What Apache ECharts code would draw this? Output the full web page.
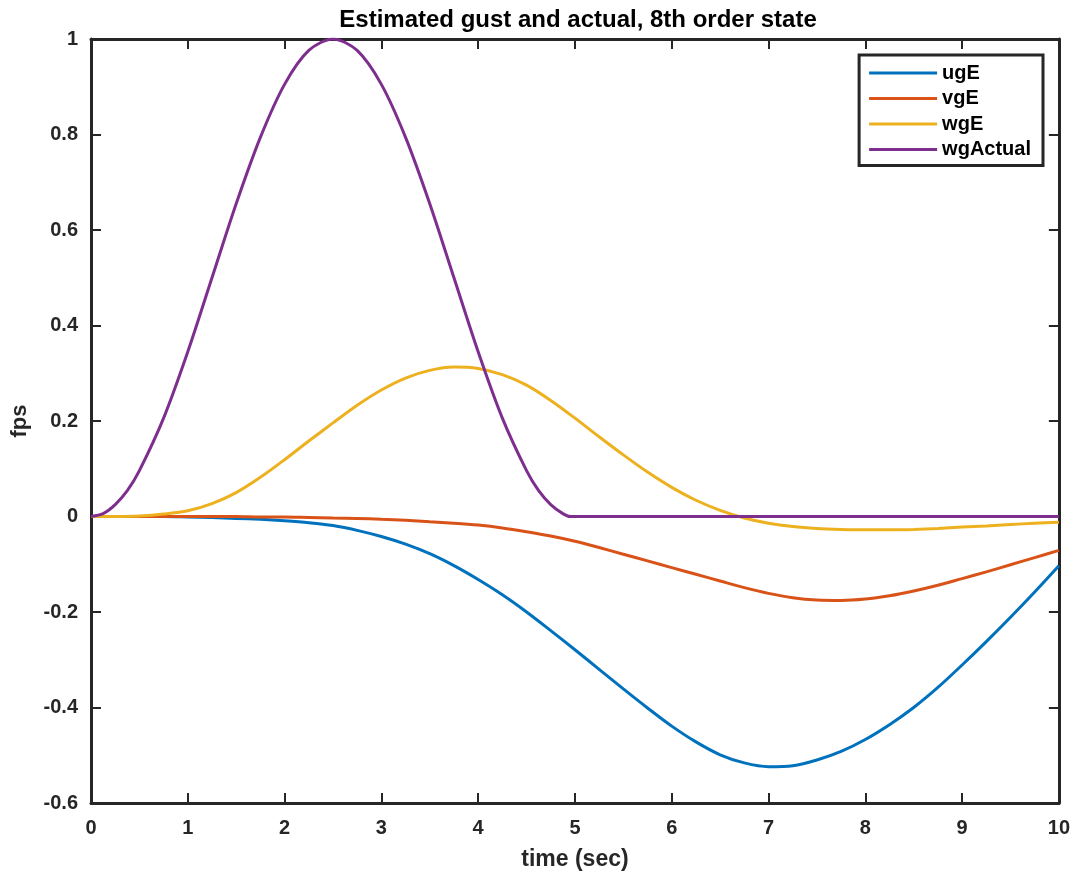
<!DOCTYPE html>
<html>
<head>
<meta charset="utf-8">
<script src="https://cdn.jsdelivr.net/npm/echarts@6/dist/echarts.min.js"></script>
<style>
  html, body { margin: 0; padding: 0; background: #fff; }
  #chart { width: 1073px; height: 876px; }
</style>
</head>
<body>
<div id="chart"></div>
<script>
// time samples (sec), quarter-second spacing
const time = [0, 0.25, 0.5, 0.75, 1, 1.25, 1.5, 1.75, 2, 2.25, 2.5, 2.75, 3, 3.25, 3.5, 3.75, 4, 4.25, 4.5, 4.75,
              5, 5.25, 5.5, 5.75, 6, 6.25, 6.5, 6.75, 7, 7.25, 7.5, 7.75, 8, 8.25, 8.5, 8.75, 9, 9.25, 9.5, 9.75, 10];

// estimated gust components (fps)
const ugE = [0, 0, 0, 0, -0.001, -0.002, -0.004, -0.006, -0.009, -0.013, -0.019, -0.029, -0.042, -0.058, -0.078, -0.103, -0.132, -0.164, -0.2, -0.239,
             -0.279, -0.32, -0.361, -0.401, -0.439, -0.472, -0.499, -0.516, -0.524, -0.522, -0.51, -0.492, -0.467, -0.436, -0.4, -0.358, -0.311, -0.262, -0.211, -0.158, -0.103];
const vgE = [0, 0, 0, 0, 0, 0, 0, -0.001, -0.001, -0.002, -0.003, -0.004, -0.006, -0.008, -0.011, -0.014, -0.018, -0.024, -0.032, -0.041,
             -0.052, -0.065, -0.079, -0.093, -0.107, -0.121, -0.135, -0.149, -0.161, -0.17, -0.175, -0.176, -0.173, -0.166, -0.156, -0.144, -0.13, -0.116, -0.101, -0.086, -0.071];
const wgE = [0, 0, 0.001, 0.005, 0.012, 0.027, 0.05, 0.082, 0.119, 0.158, 0.196, 0.233, 0.265, 0.29, 0.306, 0.313, 0.31, 0.297, 0.275, 0.243,
             0.206, 0.167, 0.129, 0.093, 0.061, 0.034, 0.013, -0.003, -0.014, -0.021, -0.025, -0.027, -0.028, -0.028, -0.027, -0.025, -0.022, -0.02, -0.017, -0.014, -0.012];

// actual vertical gust (fps); the pulse is over just before t = 5 s
const timeActual = [0, 0.125, 0.25, 0.375, 0.5, 0.75, 1, 1.25, 1.5, 1.75, 2, 2.25, 2.5, 2.75, 3, 3.25, 3.5, 3.75, 4, 4.25, 4.5, 4.625, 4.75, 4.875, 4.95, 5.25, 10];
const wgActual = [0, 0.006, 0.025, 0.054, 0.096, 0.206, 0.345, 0.5, 0.655, 0.794, 0.905, 0.976, 1.0, 0.976, 0.905, 0.794, 0.655, 0.5, 0.345, 0.206, 0.096, 0.054, 0.025, 0.006, 0, 0, 0];

const xTicks = [0, 1, 2, 3, 4, 5, 6, 7, 8, 9, 10];
const yTicks = [-0.6, -0.4, -0.2, 0, 0.2, 0.4, 0.6, 0.8, 1];

const FONT = '"Liberation Sans", Arial, Helvetica, sans-serif';
const AX = '#262626';

function pairs(xs, ys) { return xs.map((x, i) => [x, ys[i]]); }

const axisCommon = {
  axisLine: { show: true, onZero: false, lineStyle: { color: AX, width: 3 } },
  axisTick: { show: true, inside: true, length: 10, lineStyle: { color: AX, width: 2 } },
  splitLine: { show: false }
};

const chart = echarts.init(document.getElementById('chart'));
chart.setOption({
  animation: false,
  backgroundColor: '#fff',
  title: {
    text: 'Estimated gust and actual, 8th order state',
    left: 573, top: 3, textAlign: 'center',
    textStyle: { fontFamily: FONT, fontWeight: 'bold', fontSize: 24, color: '#000' }
  },
  grid: { left: 91, right: 14, top: 39, bottom: 73 },
  legend: {
    right: 30, top: 55,
    orient: 'vertical',
    backgroundColor: '#fff',
    borderColor: AX, borderWidth: 3,
    padding: [8, 12, 6, 10],
    itemGap: 5.5,
    itemWidth: 68, itemHeight: 3,
    icon: 'rect',
    textStyle: { fontFamily: FONT, fontWeight: 'bold', fontSize: 20, color: '#000' },
    data: ['ugE', 'vgE', 'wgE', 'wgActual']
  },
  xAxis: [
    Object.assign({
      type: 'value', min: 0, max: 10, interval: 1, position: 'bottom',
      name: 'time (sec)', nameLocation: 'middle', nameGap: 45,
      nameTextStyle: { fontFamily: FONT, fontWeight: 'bold', fontSize: 23, color: '#262626' },
      axisLabel: { fontFamily: FONT, fontWeight: 'bold', fontSize: 20, color: '#262626', margin: 15,
        formatter: v => xTicks.includes(v) ? String(v) : '' }
    }, axisCommon),
    Object.assign({
      type: 'value', min: 0, max: 10, interval: 1, position: 'top',
      axisLabel: { show: false }
    }, axisCommon)
  ],
  yAxis: [
    Object.assign({
      type: 'value', min: -0.6, max: 1, interval: 0.2, position: 'left',
      name: 'fps', nameLocation: 'middle', nameGap: 60, nameRotate: 90,
      nameTextStyle: { fontFamily: FONT, fontWeight: 'bold', fontSize: 22, color: '#262626' },
      axisLabel: { fontFamily: FONT, fontWeight: 'bold', fontSize: 20, color: '#262626', margin: 13,
        formatter: v => {
          const r = Math.round(v * 10) / 10;
          return yTicks.includes(r) ? String(r) : '';
        } }
    }, axisCommon),
    Object.assign({
      type: 'value', min: -0.6, max: 1, interval: 0.2, position: 'right',
      axisLabel: { show: false }
    }, axisCommon)
  ],
  series: [
    { name: 'ugE', type: 'line', data: pairs(time, ugE), smooth: 0.3, symbol: 'none',
      color: '#0072BD', lineStyle: { width: 3 }, z: 2 },
    { name: 'vgE', type: 'line', data: pairs(time, vgE), smooth: 0.3, symbol: 'none',
      color: '#D95319', lineStyle: { width: 3 }, z: 3 },
    { name: 'wgE', type: 'line', data: pairs(time, wgE), smooth: 0.3, symbol: 'none',
      color: '#EDB120', lineStyle: { width: 3 }, z: 4 },
    { name: 'wgActual', type: 'line', data: pairs(timeActual, wgActual), smooth: 0.3, symbol: 'none',
      color: '#7E2F8E', lineStyle: { width: 3 }, z: 5 }
  ]
});
</script>
</body>
</html>
